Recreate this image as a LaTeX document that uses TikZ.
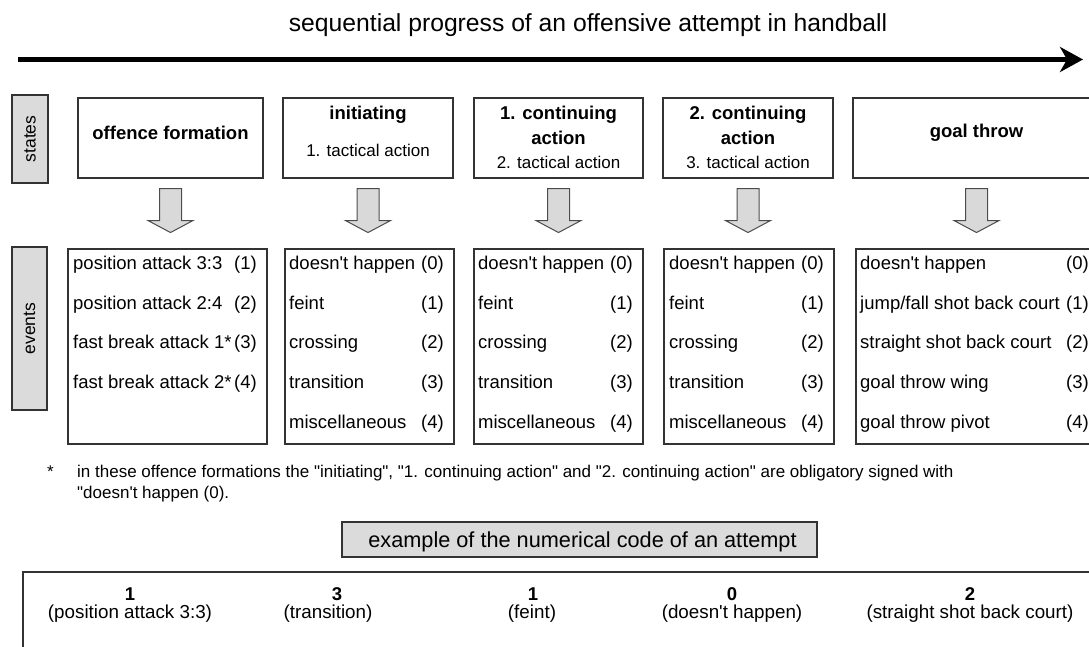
\documentclass[tikz,border=0pt]{standalone}
\usepackage{fontspec}
\setmainfont{Liberation Sans}[Ligatures=TeXOff]
\usetikzlibrary{arrows.meta}
\newcommand{\fsz}[1]{\fontsize{#1}{#1}\selectfont}

\begin{document}
\begin{tikzpicture}
[x=1pt, y=1pt,
 box/.style={draw=black!80, line width=1.1pt, inner sep=0pt},
 statebox/.style={box, minimum height=80pt},
 eventbox/.style={box, minimum height=195pt},
 sidebox/.style={box, fill=black!14, rotate=90, font=\fsz{17.5}},
 head/.style={font=\bfseries\fsz{18.5}},
 tact/.style={font=\fsz{17}},
 ev/.style={font=\fsz{18.5}, inner sep=0pt, text height=13.5pt, text depth=4pt, anchor=west},
 num/.style={ev, anchor=east},
 blockarrow/.style={draw=black!70, fill=black!15, line width=1pt, line join=miter},
 code/.style={font=\bfseries\fsz{18.5}, inner sep=0pt, text height=13pt, text depth=0pt},
 codetext/.style={font=\fsz{18.8}, inner sep=0pt, text height=13.5pt, text depth=4pt}]
\useasboundingbox (0,0) rectangle (1089,646);
\clip (0,0) rectangle (1089,646);

% title and time line
\node[font=\fsz{24.7}, anchor=base, inner sep=0pt] (title) at (588,614)
  {sequential progress of an offensive attempt in handball};
\coordinate (start) at (18,586.5);
\coordinate (end) at (1083,586.5);
\draw[line width=5pt, -{Stealth[length=23pt,width=25pt,inset=7pt]}] (start) -- (end);

% states
\node[sidebox, minimum width=88pt, minimum height=36pt] (states) at (30,507) {states};
\node[statebox, minimum width=185pt] (s1) at (170.5,508) {};
\node[statebox, minimum width=170pt] (s2) at (368,508) {};
\node[statebox, minimum width=169pt] (s3) at (558.5,508) {};
\node[statebox, minimum width=170pt] (s4) at (748,508) {};
\node[statebox, minimum width=247pt] (s5) at (976.5,508) {};

\node[head] (s1a) at (170.5,513) {offence formation};
\node[head] (s2a) at (368,531) {initiating};
\node[tact] (s2b) at (368,496) {1. tactical action};
\node[head] (s3a) at (558.5,531) {1. continuing};
\node[head] (s3b) at (558.5,508) {action};
\node[tact] (s3c) at (558.5,484) {2. tactical action};
\node[head] (s4a) at (748,531) {2. continuing};
\node[head] (s4b) at (748,508) {action};
\node[tact] (s4c) at (748,484) {3. tactical action};
\node[head] (s5a) at (976.5,513) {goal throw};

% events
\node[sidebox, minimum width=163pt, minimum height=35pt] (events) at (29.5,317.5) {events};
\node[eventbox, minimum width=199pt] (e1) at (167.5,299.5) {};
\node[eventbox, minimum width=169pt] (e2) at (369.5,299.5) {};
\node[eventbox, minimum width=169pt] (e3) at (558.5,299.5) {};
\node[eventbox, minimum width=170pt] (e4) at (749,299.5) {};
\node[eventbox, minimum width=244pt] (e5) at (978,299.5) {};

\foreach \i in {1,...,5}
  \draw[blockarrow] ([xshift=-11pt,yshift=-10pt]s\i.south) -- ++(22,0) -- ++(0,-32)
    -- ++(11.5,0) -- ++(-22.5,-12) -- ++(-22.5,12) -- ++(11.5,0) -- cycle;

\node[ev] (e1a) at (73,381) {position attack 3:3};
\node[num] (e1an) at (257,381) {(1)};
\node[ev] (e1b) at (73,341) {position attack 2:4};
\node[num] (e1bn) at (257,341) {(2)};
\node[ev] (e1c) at (73,302) {fast break attack 1*};
\node[num] (e1cn) at (257,302) {(3)};
\node[ev] (e1d) at (73,262) {fast break attack 2*};
\node[num] (e1dn) at (257,262) {(4)};

\node[ev] (e2a) at (289,381) {doesn't happen};
\node[num] (e2an) at (444,381) {(0)};
\node[ev] (e2b) at (289,341) {feint};
\node[num] (e2bn) at (444,341) {(1)};
\node[ev] (e2c) at (289,302) {crossing};
\node[num] (e2cn) at (444,302) {(2)};
\node[ev] (e2d) at (289,262) {transition};
\node[num] (e2dn) at (444,262) {(3)};
\node[ev] (e2e) at (289,222) {miscellaneous};
\node[num] (e2en) at (444,222) {(4)};

\node[ev] (e3a) at (478,381) {doesn't happen};
\node[num] (e3an) at (633,381) {(0)};
\node[ev] (e3b) at (478,341) {feint};
\node[num] (e3bn) at (633,341) {(1)};
\node[ev] (e3c) at (478,302) {crossing};
\node[num] (e3cn) at (633,302) {(2)};
\node[ev] (e3d) at (478,262) {transition};
\node[num] (e3dn) at (633,262) {(3)};
\node[ev] (e3e) at (478,222) {miscellaneous};
\node[num] (e3en) at (633,222) {(4)};

\node[ev] (e4a) at (669,381) {doesn't happen};
\node[num] (e4an) at (824,381) {(0)};
\node[ev] (e4b) at (669,341) {feint};
\node[num] (e4bn) at (824,341) {(1)};
\node[ev] (e4c) at (669,302) {crossing};
\node[num] (e4cn) at (824,302) {(2)};
\node[ev] (e4d) at (669,262) {transition};
\node[num] (e4dn) at (824,262) {(3)};
\node[ev] (e4e) at (669,222) {miscellaneous};
\node[num] (e4en) at (824,222) {(4)};

\node[ev] (e5a) at (860,381) {doesn't happen};
\node[ev] (e5an) at (1066,381) {(0)};
\node[ev] (e5b) at (860,341) {jump/fall shot back court};
\node[ev] (e5bn) at (1066,341) {(1)};
\node[ev] (e5c) at (860,302) {straight shot back court};
\node[ev] (e5cn) at (1066,302) {(2)};
\node[ev] (e5d) at (860,262) {goal throw wing};
\node[ev] (e5dn) at (1066,262) {(3)};
\node[ev] (e5e) at (860,222) {goal throw pivot};
\node[ev] (e5en) at (1066,222) {(4)};

% footnote
\node[font=\fsz{17}, anchor=base west, inner sep=0pt] (star) at (47,168.7) {*};
\node[font=\fsz{17}, anchor=base west, inner sep=0pt] (note1) at (77,168.7)
  {in these offence formations the "initiating", "1. continuing action" and "2. continuing action" are obligatory signed with};
\node[font=\fsz{17}, anchor=base west, inner sep=0pt] (note2) at (77,147.3)
  {"doesn't happen (0).};

% example
\node[box, fill=black!14, minimum width=475pt, minimum height=35pt] (example) at (579.5,106.5) {};
\node[font=\fsz{21.7}, inner sep=0pt] (exampletext) at (582.5,104) {example of the numerical code of an attempt};
\node[box, minimum width=1077pt, minimum height=94pt] (codebox) at (561.5,27) {};

\node[code] (c1) at (130,52) {1};
\node[codetext] (c1t) at (130,32.5) {(position attack 3:3)};
\node[code] (c2) at (337,52) {3};
\node[codetext] (c2t) at (328,32.5) {(transition)};
\node[code] (c3) at (533,52) {1};
\node[codetext] (c3t) at (532,32.5) {(feint)};
\node[code] (c4) at (732,52) {0};
\node[codetext] (c4t) at (732,32.5) {(doesn't happen)};
\node[code] (c5) at (970,52) {2};
\node[codetext] (c5t) at (970,32.5) {(straight shot back court)};
\end{tikzpicture}
\end{document}
